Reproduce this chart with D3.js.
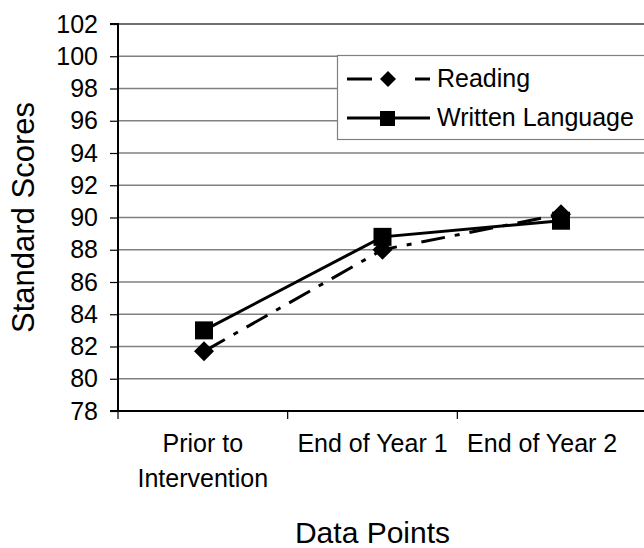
<!DOCTYPE html>
<html>
<head>
<meta charset="utf-8">
<script src="https://cdn.jsdelivr.net/npm/d3@7"></script>
<style>
  html, body { margin: 0; padding: 0; background: #fff; }
  svg { display: block; font-family: "Liberation Sans", Arial, sans-serif; }
</style>
</head>
<body>
<svg id="chart" width="644" height="548"></svg>
<script>
const categories = ["Prior to Intervention", "End of Year 1", "End of Year 2"];
const categoryLines = [["Prior to", "Intervention"], ["End of Year 1"], ["End of Year 2"]];
const readingValues = [81.7, 88.0, 90.2];
const writtenValues = [83.0, 88.8, 89.8];
const yTicks = [78, 80, 82, 84, 86, 88, 90, 92, 94, 96, 98, 100, 102];
const seriesNames = ["Reading", "Written Language"];

(function () {
const svg = d3.select("#chart");
const pL = 118, pR = 627, pT = 24, pB = 411;

const y = d3.scaleLinear().domain([78, 102]).range([pB, pT]);
const xBand = d3.scaleBand().domain(categories).range([pL, pR]).padding(0);
const xPt = d3.scalePoint().domain(categories).range([204, 561]);

// gridlines
svg.append("g").selectAll("line").data(yTicks.filter(t => t !== 78)).join("line")
  .attr("x1", pL).attr("x2", 644)
  .attr("y1", d => y(d)).attr("y2", d => y(d))
  .attr("stroke", d => d === 102 ? "#404040" : "#808080")
  .attr("stroke-width", 1.5);

// y axis
const yAxis = d3.axisLeft(y).tickValues(yTicks).tickSize(8).tickPadding(12).tickFormat(d3.format("d"));
const gy = svg.append("g").attr("transform", `translate(${pL},0)`).call(yAxis);
gy.select(".domain").attr("stroke", "#000").attr("stroke-width", 2).attr("d", `M-8,${pT}H0V${pB}`);
gy.selectAll(".tick line").attr("stroke", "#000").attr("stroke-width", 1.2);
gy.selectAll(".tick text").attr("font-size", 25).attr("font-family", "Liberation Sans, Arial, sans-serif").attr("fill", "#000");

// x axis
const gx = svg.append("g").attr("transform", `translate(0,${pB})`);
gx.append("line").attr("x1", pL - 8).attr("x2", 644).attr("y1", 0).attr("y2", 0)
  .attr("stroke", "#000").attr("stroke-width", 2);
const tickXs = categories.map(c => xBand(c));
gx.selectAll("line.tk").data(tickXs).join("line").attr("class", "tk")
  .attr("x1", d => d).attr("x2", d => d).attr("y1", 0).attr("y2", 8)
  .attr("stroke", "#000").attr("stroke-width", 1.2);
categories.forEach((c, i) => {
  const t = gx.append("text").attr("text-anchor", "middle").attr("font-size", 25).attr("fill", "#000");
  categoryLines[i].forEach((ln, j) => {
    t.append("tspan").attr("x", xBand(c) + xBand.bandwidth() / 2).attr("y", 41 + j * 35).text(ln);
  });
});

// axis titles
svg.append("text").attr("x", (pL + pR) / 2).attr("y", 543).attr("text-anchor", "middle")
  .attr("font-size", 30).attr("fill", "#000").text("Data Points");
svg.append("text").attr("transform", `translate(34,${(pT + pB) / 2}) rotate(-90)`)
  .attr("text-anchor", "middle").attr("font-size", 31).attr("fill", "#000").text("Standard Scores");

// series
const lineGen = d3.line().x((d, i) => xPt(categories[i])).y(d => y(d));
svg.append("path").datum(readingValues).attr("d", lineGen).attr("fill", "none")
  .attr("stroke", "#000").attr("stroke-width", 3).attr("stroke-dasharray", "24,10,5,10");
svg.append("path").datum(writtenValues).attr("d", lineGen).attr("fill", "none")
  .attr("stroke", "#000").attr("stroke-width", 3);

const diamond = s => `M0,${-s}L${s},0L0,${s}L${-s},0Z`;
svg.append("g").selectAll("path").data(readingValues).join("path")
  .attr("transform", (d, i) => `translate(${xPt(categories[i])},${y(d)})`)
  .attr("d", diamond(10)).attr("fill", "#000");
svg.append("g").selectAll("rect").data(writtenValues).join("rect")
  .attr("x", (d, i) => xPt(categories[i]) - 9).attr("y", d => y(d) - 9)
  .attr("width", 18).attr("height", 18).attr("fill", "#000");

// legend
const lg = svg.append("g");
lg.append("rect").attr("x", 337.5).attr("y", 55.5).attr("width", 320).attr("height", 84)
  .attr("fill", "#fff").attr("stroke", "#808080").attr("stroke-width", 1.2);
const rows = [79, 118];
lg.append("line").attr("x1", 347).attr("x2", 430).attr("y1", rows[0]).attr("y2", rows[0])
  .attr("stroke", "#000").attr("stroke-width", 3).attr("stroke-dasharray", "25,43,15,50");
lg.append("path").attr("transform", `translate(388,${rows[0]})`).attr("d", diamond(8)).attr("fill", "#000");
lg.append("line").attr("x1", 347).attr("x2", 430).attr("y1", rows[1]).attr("y2", rows[1])
  .attr("stroke", "#000").attr("stroke-width", 3);
lg.append("rect").attr("x", 380).attr("y", rows[1] - 7).attr("width", 15).attr("height", 15).attr("fill", "#000");
seriesNames.forEach((n, i) => {
  lg.append("text").attr("x", 437).attr("y", rows[i] + 8).attr("font-size", 25).attr("fill", "#000").text(n);
});
})();
</script>
</body>
</html>
